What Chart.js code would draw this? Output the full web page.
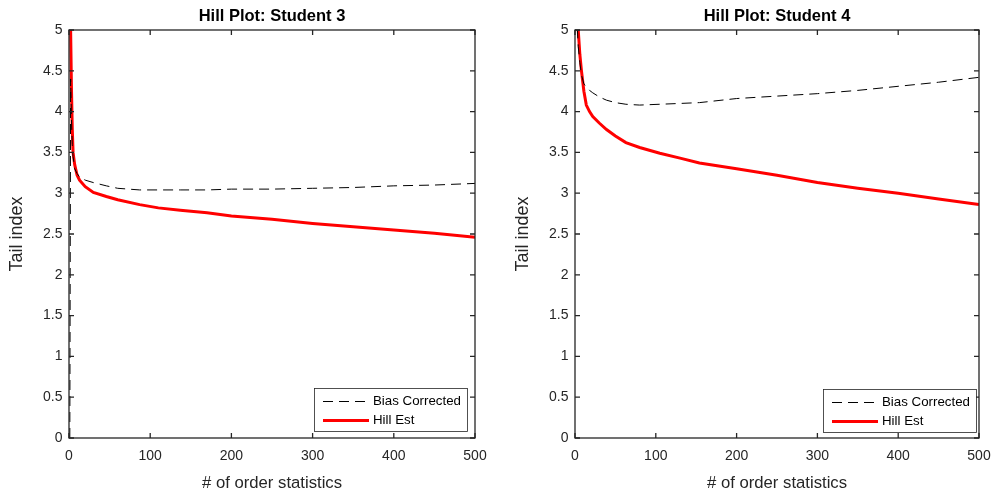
<!DOCTYPE html>
<html>
<head>
<meta charset="utf-8">
<script src="https://cdn.jsdelivr.net/npm/chart.js@4/dist/chart.umd.min.js"></script>
<style>
  body { margin: 0; background: #fff; }
  .panel { position: absolute; top: 0; height: 495px; }
</style>
</head>
<body>
<div class="panel" style="left:0;width:495px"><canvas id="hill3" width="495" height="495"></canvas></div>
<div class="panel" style="left:495px;width:496px"><canvas id="hill4" width="496" height="495"></canvas></div>
<script>
// Student 3: order statistic k, Hill estimate, bias-corrected estimate
var k3 = [1, 2, 3, 4, 5, 7, 10, 13, 20, 30, 46, 60, 87, 110, 137, 170, 200, 250, 300, 350, 400, 450, 500];
var hill3 = [7.5, 5.0, 4.3, 3.8, 3.5, 3.35, 3.22, 3.16, 3.08, 3.01, 2.96, 2.92, 2.86, 2.82, 2.79, 2.76, 2.72, 2.68, 2.63, 2.59, 2.55, 2.51, 2.46];
var bias3 = [0, 4.4, 3.9, 3.6, 3.45, 3.3, 3.24, 3.2, 3.16, 3.13, 3.09, 3.06, 3.04, 3.04, 3.04, 3.04, 3.05, 3.05, 3.06, 3.07, 3.09, 3.10, 3.12];

// Student 4
var k4 = [1, 2, 4, 6, 8, 11, 14, 18, 22, 30, 39, 50, 63, 80, 105, 130, 154, 200, 250, 300, 350, 400, 450, 500];
var hill4 = [7.0, 5.8, 5.0, 4.7, 4.5, 4.25, 4.08, 4.0, 3.94, 3.86, 3.78, 3.7, 3.62, 3.56, 3.49, 3.43, 3.37, 3.30, 3.22, 3.13, 3.06, 3.0, 2.93, 2.86];
var bias4 = [6.0, 5.2, 4.8, 4.6, 4.45, 4.34, 4.3, 4.26, 4.23, 4.18, 4.14, 4.11, 4.09, 4.08, 4.09, 4.1, 4.11, 4.16, 4.19, 4.22, 4.26, 4.31, 4.36, 4.42];

var xTicks = [0, 100, 200, 300, 400, 500];
var yTicks = [0, 0.5, 1, 1.5, 2, 2.5, 3, 3.5, 4, 4.5, 5];

var FONT = '"Liberation Sans", Arial, Helvetica, sans-serif';
var AXIS = '#262626';

function pts(xs, ys) {
    return xs.map(function (x, i) { return { x: x, y: ys[i] }; });
}

// box around the axes, inward ticks on all four sides, legend in the lower right
var matlabAxes = {
    id: 'matlabAxes',
    afterDraw: function (chart, args, opts) {
        var ctx = chart.ctx;
        var a = chart.chartArea;
        var xs = chart.scales.x, ys = chart.scales.y;
        var tl = 5;
        ctx.save();
        ctx.strokeStyle = AXIS;
        ctx.lineWidth = 1.3;
        ctx.strokeRect(a.left, a.top, a.right - a.left, a.bottom - a.top);
        ctx.beginPath();
        xTicks.forEach(function (v) {
            var px = xs.getPixelForValue(v);
            ctx.moveTo(px, a.bottom); ctx.lineTo(px, a.bottom - tl);
            ctx.moveTo(px, a.top); ctx.lineTo(px, a.top + tl);
        });
        yTicks.forEach(function (v) {
            var py = ys.getPixelForValue(v);
            ctx.moveTo(a.left, py); ctx.lineTo(a.left + tl, py);
            ctx.moveTo(a.right, py); ctx.lineTo(a.right - tl, py);
        });
        ctx.stroke();

        // legend
        var bx = a.right - opts.right - 153, by = a.bottom - opts.bottom - 43;
        ctx.fillStyle = '#fff';
        ctx.fillRect(bx, by, 153, 43);
        ctx.lineWidth = 0.8;
        ctx.strokeStyle = AXIS;
        ctx.strokeRect(bx + 0.5, by + 0.5, 153, 43);
        ctx.font = '13.3px ' + FONT;
        ctx.textBaseline = 'middle';
        chart.data.datasets.forEach(function (ds, i) {
            var ly = by + 13.5 + i * 19;
            ctx.strokeStyle = ds.borderColor;
            ctx.lineWidth = ds.borderWidth;
            ctx.setLineDash(ds.borderDash || []);
            ctx.beginPath();
            ctx.moveTo(bx + 9, ly);
            ctx.lineTo(bx + 55, ly);
            ctx.stroke();
            ctx.setLineDash([]);
            ctx.fillStyle = '#000';
            ctx.fillText(ds.label, bx + 59, ly);
        });
        ctx.restore();
    }
};

function makeChart(id, title, ks, hill, bias, axisW, padRight, yTitlePad, legendPos) {
    return new Chart(document.getElementById(id), {
        type: 'line',
        data: {
            datasets: [{
                label: 'Bias Corrected',
                data: pts(ks, bias),
                borderColor: '#000',
                borderWidth: 1,
                borderDash: [10, 6],
                pointRadius: 0,
                tension: 0
            }, {
                label: 'Hill Est',
                data: pts(ks, hill),
                borderColor: '#ff0000',
                borderWidth: 3,
                pointRadius: 0,
                tension: 0
            }]
        },
        options: {
            responsive: false,
            animation: false,
            layout: { padding: { left: 0, right: padRight, top: 0, bottom: 0 } },
            plugins: {
                legend: { display: false },
                tooltip: { enabled: false },
                title: {
                    display: true,
                    text: title,
                    fullSize: false,
                    color: '#000',
                    font: { family: FONT, size: 16.5, weight: 'bold' },
                    padding: { top: 7, bottom: 3.2 }
                },
                matlabAxes: legendPos
            },
            scales: {
                x: {
                    type: 'linear',
                    min: 0,
                    max: 500,
                    afterFit: function (s) { s.height = 57; s.paddingLeft = 0; s.paddingRight = 0; },
                    afterBuildTicks: function (s) { s.ticks = xTicks.map(function (v) { return { value: v }; }); },
                    grid: { display: false, drawTicks: false },
                    border: { display: false },
                    ticks: { color: AXIS, padding: 10, maxRotation: 0, font: { family: FONT, size: 14 } },
                    title: {
                        display: true,
                        text: '# of order statistics',
                        color: AXIS,
                        font: { family: FONT, size: 16.7 },
                        padding: { top: 0, bottom: 2 }
                    }
                },
                y: {
                    min: 0,
                    max: 5,
                    afterFit: function (s) { s.width = axisW; s.paddingTop = 0; s.paddingBottom = 0; },
                    afterBuildTicks: function (s) { s.ticks = yTicks.map(function (v) { return { value: v }; }); },
                    grid: { display: false, drawTicks: false },
                    border: { display: false },
                    ticks: {
                        color: AXIS,
                        padding: 6.5,
                        font: { family: FONT, size: 14 },
                        callback: function (v) { return String(v); }
                    },
                    title: {
                        display: true,
                        text: 'Tail index',
                        color: AXIS,
                        font: { family: FONT, size: 18 },
                        padding: { top: yTitlePad - 0.6, bottom: 0 }
                    }
                }
            }
        },
        plugins: [matlabAxes]
    });
}

makeChart('hill3', 'Hill Plot: Student 3', k3, hill3, bias3, 69, 20, 7.3, { right: 8, bottom: 7 });
makeChart('hill4', 'Hill Plot: Student 4', k4, hill4, bias4, 80, 12, 18.3, { right: 3, bottom: 6 });
</script>
</body>
</html>
